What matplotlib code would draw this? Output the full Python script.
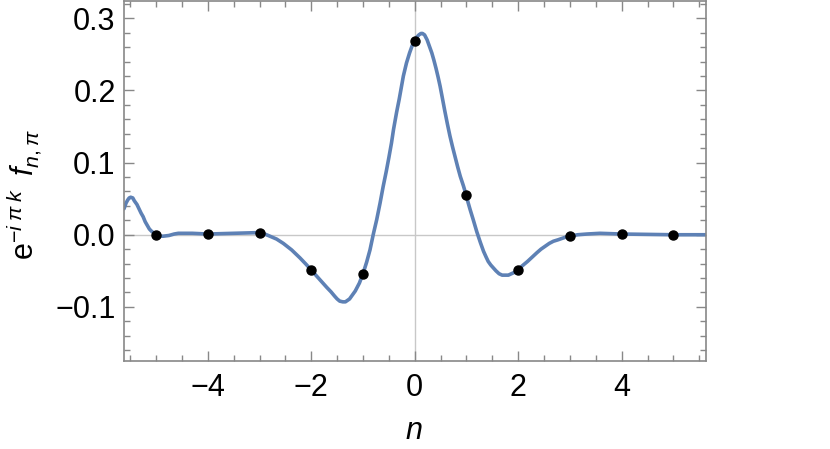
import matplotlib
matplotlib.use("Agg")
import matplotlib.pyplot as plt
from matplotlib.ticker import MultipleLocator

plt.rcParams['font.family'] = ['Liberation Sans', 'DejaVu Sans']
plt.rcParams['mathtext.fontset'] = 'custom'
plt.rcParams['mathtext.rm'] = 'Liberation Sans'
plt.rcParams['mathtext.it'] = 'Liberation Sans:italic'

# curve values
curve_n = [-5.62, -5.58, -5.55, -5.52, -5.49, -5.45, -5.42, -5.37, -5.33, -5.29,
           -5.25, -5.21, -5.17, -5.13, -5.09, -5.04, -5.0, -4.93, -4.86, -4.75,
           -4.65, -4.57, -4.3, -4.0, -3.5, -3.0, -2.9, -2.8, -2.67, -2.54,
           -2.38, -2.22, -2.1, -2.0, -1.85, -1.70, -1.62, -1.55, -1.5, -1.45,
           -1.39, -1.34, -1.3, -1.26, -1.22, -1.15, -1.07, -1.0, -0.93, -0.865,
           -0.80, -0.735, -0.67, -0.61, -0.55, -0.5, -0.45, -0.41, -0.35, -0.3,
           -0.26, -0.22, -0.16, -0.1, -0.05, 0.0, 0.04, 0.08, 0.12, 0.15,
           0.19, 0.24, 0.28, 0.33, 0.37, 0.41, 0.45, 0.49, 0.53, 0.58,
           0.63, 0.68, 0.73, 0.78, 0.83, 0.88, 0.94, 0.99, 1.03, 1.07,
           1.13, 1.20, 1.27, 1.33, 1.38, 1.42, 1.47, 1.52, 1.57, 1.63,
           1.69, 1.75, 1.81, 1.87, 1.93, 1.99, 2.08, 2.18, 2.27, 2.36,
           2.44, 2.52, 2.60, 2.68, 2.77, 2.85, 2.93, 3.0, 3.15, 3.33,
           3.58, 4.0, 4.5, 5.0, 5.63]
curve_f = [0.036, 0.044, 0.048, 0.051, 0.052, 0.051, 0.047, 0.042, 0.036, 0.030,
           0.025, 0.018, 0.013, 0.008, 0.005, 0.002, 0.0, -0.002, -0.002, -0.001,
           0.001, 0.002, 0.002, 0.001, 0.002, 0.003, 0.001, -0.002, -0.006, -0.012,
           -0.021, -0.032, -0.041, -0.049, -0.061, -0.073, -0.079, -0.085, -0.089, -0.092,
           -0.093, -0.093, -0.091, -0.089, -0.085, -0.078, -0.067, -0.054, -0.038, -0.021,
           0.001, 0.021, 0.044, 0.067, 0.088, 0.107, 0.127, 0.146, 0.170, 0.188,
           0.204, 0.220, 0.238, 0.252, 0.262, 0.269, 0.274, 0.277, 0.279, 0.279,
           0.277, 0.270, 0.262, 0.252, 0.242, 0.231, 0.219, 0.206, 0.191, 0.172,
           0.154, 0.137, 0.122, 0.108, 0.094, 0.081, 0.068, 0.056, 0.045, 0.035,
           0.021, 0.004, -0.011, -0.023, -0.031, -0.037, -0.042, -0.046, -0.050, -0.054,
           -0.056, -0.056, -0.056, -0.054, -0.052, -0.049, -0.043, -0.037, -0.031, -0.025,
           -0.020, -0.016, -0.012, -0.009, -0.007, -0.005, -0.003, -0.002, 0.0, 0.001,
           0.002, 0.001, 0.0005, 0.0, 0.0]

# sample points
pts_n = [-5, -4, -3, -2, -1, 0, 1, 2, 3, 4, 5]
pts_f = [0.0, 0.001, 0.003, -0.049, -0.054, 0.269, 0.055, -0.049, -0.002, 0.001, 0.0]

fig = plt.figure(figsize=(8.3, 4.49), dpi=100)
ax = fig.add_axes([124/830, 1 - 361/449, 582/830, 360/449])

ax.axhline(0, color='#c8c8c8', lw=1.0, zorder=1)
ax.axvline(0, color='#c8c8c8', lw=1.0, zorder=1)
ax.plot(curve_n, curve_f, color='#5e81b5', lw=2.6, zorder=2,
        solid_capstyle='round', solid_joinstyle='round')
ax.plot(pts_n, pts_f, 'o', color='black', ms=6.5, zorder=3)

ax.set_xlim(-5.62, 5.63)
ax.set_ylim(-0.175, 0.324)

ax.xaxis.set_minor_locator(MultipleLocator(0.5))
ax.yaxis.set_minor_locator(MultipleLocator(0.02))
ax.set_xticks([-4, -2, 0, 2, 4])
ax.set_xticklabels(['\u22124', '\u22122', '0', '2', '4'])
ax.set_yticks([-0.1, 0.0, 0.1, 0.2, 0.3])
ax.set_yticklabels(['\u22120.1', '0.0', '0.1', '0.2', '0.3'])

ax.tick_params(which='both', direction='in', top=True, right=True, color='#888888',
               labelsize=22, labelcolor='black')
ax.tick_params(which='major', length=7, width=1)
ax.tick_params(which='minor', length=4, width=1)
ax.tick_params(axis='x', pad=9)
ax.tick_params(axis='y', pad=6)
for s in ax.spines.values():
    s.set_color('#888888')
    s.set_linewidth(1.2)

fig.text(414/830, 1 - 431/449, '$n$', fontsize=22, ha='center', va='center')
fig.text(24/830, 1 - 195/449, r'$\mathregular{e}^{-i\;\pi\;k}\;\;f_{n,\pi}$', fontsize=22,
         ha='center', va='center', rotation=90)

fig.savefig('out.png', dpi=100)
